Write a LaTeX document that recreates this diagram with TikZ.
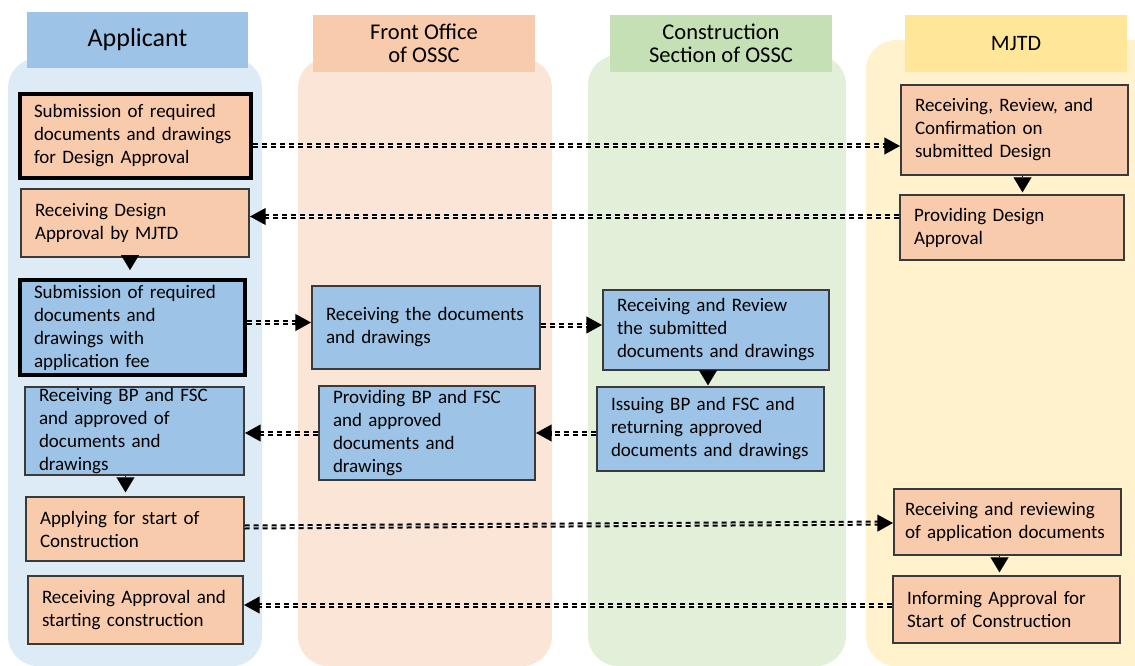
\documentclass[tikz,border=0pt]{standalone}
\usepackage{fontspec}
\setmainfont{Carlito}
\usetikzlibrary{arrows.meta}
\definecolor{peach}{HTML}{F8CBAD}
\definecolor{skyblue}{HTML}{9DC3E6}
\definecolor{laneblue}{HTML}{DDEBF7}
\definecolor{lanepeach}{HTML}{FBE5D6}
\definecolor{lanegreen}{HTML}{E2F0D9}
\definecolor{laneyellow}{HTML}{FFF2CC}
\definecolor{headgreen}{HTML}{C5E0B4}
\definecolor{headyellow}{HTML}{FFE699}
\definecolor{edge}{HTML}{3A3A3A}
\begin{document}
\begin{tikzpicture}[x=1pt, y=-1pt,
  box/.style={draw=edge, line width=1.4pt, inner xsep=14pt, inner ysep=3pt, align=left,
    font=\fontsize{19}{23}\selectfont, execute at begin node={\hyphenpenalty=10000}},
  pbox/.style={box, fill=peach},
  bbox/.style={box, fill=skyblue},
  bold/.style={draw=black, line width=4pt},
  head/.style={inner sep=0pt, align=center, minimum width=222pt, minimum height=57pt,
    font=\fontsize{22.5}{23}\selectfont},
  flow/.style={line width=5pt, dash pattern=on 5pt off 4pt, -{Triangle[width=16pt,length=16pt]},
    postaction={draw=white, line width=1pt, dash pattern=on 5pt off 4pt, -, shorten >=16pt}},
  down/.style={line width=0.1pt, -{Triangle[width=18pt,length=15pt]}}
]
\useasboundingbox (0,0) rectangle (1135,666);
\clip (0,0) rectangle (1135,666);

% lanes
\fill[laneblue, rounded corners=30pt] (8,58) rectangle (262,666);
\fill[lanepeach, rounded corners=30pt] (298,58) rectangle (552,666);
\fill[lanegreen, rounded corners=30pt] (588,55) rectangle (846,666);
\fill[laneyellow, rounded corners=30pt] (866,40) rectangle (1165,666);

% headers
\node[head, fill=skyblue, font=\fontsize{26}{28}\selectfont, minimum width=221pt, minimum height=56pt] (happl) at (137.5,40) {Applicant};
\node[head, fill=peach] (hfront) at (424,43.5) {Front Office\\of OSSC};
\node[head, fill=headgreen] (hcons) at (721,43.5) {Construction\\Section of OSSC};
\node[head, fill=headyellow, font=\fontsize{22}{24}\selectfont] (hmjtd) at (1016,44) {MJTD};

% applicant
\node[pbox, bold, text width=203pt, minimum height=84pt] (a1) at (135.5,136) {Submission of required\\documents and drawings\\for Design Approval};
\node[pbox, text width=200pt, minimum height=68pt] (a2) at (135,223) {Receiving Design\\Approval by MJTD};
\node[bbox, bold, text width=197pt, minimum height=95pt] (a3) at (132.5,327.5) {Submission of required\\documents and\\drawings with\\application fee};
\node[bbox, text width=191pt, minimum height=88pt, inner ysep=0pt] (a4) at (134.5,431) {Receiving BP and FSC\\and approved of\\documents and\\drawings};
\node[pbox, text width=190pt, minimum height=64pt] (a5) at (135,529) {Applying for start of\\Construction};
\node[pbox, text width=187pt, minimum height=68pt] (a6) at (135.5,610) {Receiving Approval and\\starting construction};

% front office
\node[bbox, text width=200pt, minimum height=83pt] (f1) at (426,327.5) {Receiving the documents\\and drawings};
\node[bbox, text width=188pt, minimum height=94pt, inner ysep=0pt] (f2) at (427,433) {Providing BP and FSC\\and approved\\documents and\\drawings};

% construction section
\node[bbox, text width=198pt, minimum height=80pt] (c1) at (716,330) {Receiving and Review\\the submitted\\documents and drawings};
\node[bbox, text width=199pt, minimum height=84pt] (c2) at (710.5,429) {Issuing BP and FSC and\\returning approved\\documents and drawings};

% MJTD
\node[pbox, text width=199pt, minimum height=90pt] (m1) at (1014.5,130) {Receiving, Review, and\\Confirmation on\\submitted Design};
\node[pbox, text width=196pt, minimum height=65pt] (m2) at (1012,227.5) {Providing Design\\Approval};
\node[pbox, text width=205pt, inner xsep=11pt, minimum height=66pt] (m3) at (1007.5,522) {Receiving and reviewing\\of application documents};
\node[pbox, text width=199pt, minimum height=67pt] (m4) at (1006.5,609.5) {Informing Approval for\\Start of Construction};

% flows between lanes
\draw[flow] ([yshift=-10pt]a1.east) -- ([yshift=-10pt]a1.east -| m1.west);
\draw[flow] ([yshift=11pt]m2.west) -- ([yshift=11pt]m2.west -| a2.east);
\draw[flow] ([yshift=5pt]a3.east) -- ([yshift=5pt]a3.east -| f1.west);
\draw[flow] ([yshift=2.5pt]f1.east) -- ([yshift=2.5pt]f1.east -| c1.west);
\draw[flow] ([yshift=-4pt]c2.west) -- ([yshift=-4pt]c2.west -| f2.east);
\draw[flow] (f2.west) -- (f2.west -| a4.east);
\draw[flow] ([yshift=2pt]a5.east) -- ([yshift=-1pt]m3.west);
\draw[flow] ([yshift=4.5pt]m4.west) -- ([yshift=4.5pt]m4.west -| a6.east);

% steps inside a lane
\draw[down, shorten >=8pt] ([xshift=-5pt]a2.south) -- ([xshift=-5pt]a2.south |- a3.north);
\draw[down, shorten >=4pt] ([xshift=-9pt]a4.south) -- ([xshift=-9pt]a4.south |- a5.north);
\draw[down, shorten >=1pt] ([xshift=-8pt]c1.south) -- ([xshift=-8pt]c1.south |- c2.north);
\draw[down, shorten >=2pt] ([xshift=8pt]m1.south) -- ([xshift=8pt]m1.south |- m2.north);
\draw[down, shorten >=3pt] ([xshift=-8pt]m3.south) -- ([xshift=-8pt]m3.south |- m4.north);
\end{tikzpicture}
\end{document}
